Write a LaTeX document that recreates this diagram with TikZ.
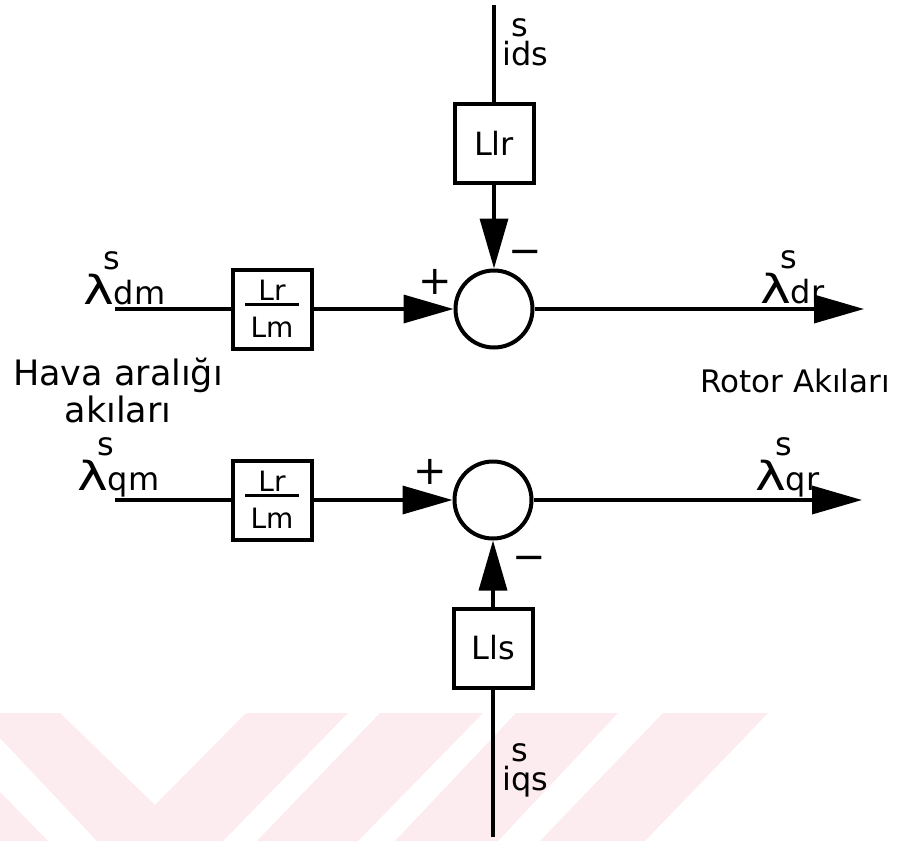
\documentclass[tikz,border=0pt]{standalone}
\usepackage{fontspec}
\setmainfont{DejaVu Sans}
\usetikzlibrary{arrows.meta}
\definecolor{wmpink}{RGB}{252,235,239}
\tikzset{
  blk/.style={draw,line width=4pt,minimum width=79pt,minimum height=79pt,inner sep=0pt,font=\fontsize{32}{32}\selectfont},
  sumnode/.style={draw,circle,line width=4pt,minimum size=77pt,inner sep=0pt},
  sig/.style={line width=3.5pt},
  flow/.style={sig,-{Triangle[length=50pt,width=28pt]}},
  lbl/.style={inner sep=0pt,font=\fontsize{32}{32}\selectfont},
  sgn/.style={inner sep=0pt,anchor=base,font=\fontsize{40}{40}\selectfont},
}
\newcommand{\flux}[1]{{\fontsize{40}{40}\selectfont\scalebox{1.3}[1]{λ}}\rlap{\kern-10pt\raisebox{35pt}{s}}#1}
\newcommand{\stk}[1]{\rlap{\raisebox{29pt}{\kern9pt s}}#1}
\newcommand{\ratio}[2]{\fontsize{28}{28}\selectfont\vbox{\hbox to 54pt{\hss#1\hss}\kern2pt\hrule height 3pt\kern12pt\hbox to 54pt{\hss#2\hss}}}

\begin{document}
\begin{tikzpicture}[x=1pt,y=-1pt]
  \useasboundingbox (0,0) rectangle (902,841);
  % watermark
  \fill[wmpink] (0,713) -- (60,713) -- (155,805) -- (246,713) -- (348,713) -- (223,841) -- (97,841) -- (0,738) -- cycle;
  \fill[wmpink] (0,792) -- (48,841) -- (0,841) -- cycle;
  \fill[wmpink] (380,713) -- (483,713) -- (358,841) -- (257,841) -- cycle;
  \fill[wmpink] (516,713) -- (618,713) -- (498,841) -- (395,841) -- cycle;
  \fill[wmpink] (663,713) -- (768,713) -- (645,841) -- (540,841) -- cycle;

  % blocks
  \node[sumnode] (sumd) at (494,309) {};
  \node[sumnode] (sumq) at (493,500) {};
  \node[blk] (llr) at (494,143) {Llr};
  \node[blk] (lls) at (493,648) {Lls};
  \node[blk] (gaind) at (272,309) {\ratio{Lr}{Lm}};
  \node[blk] (gainq) at (272,500) {\ratio{Lr}{Lm}};

  % free ends
  \coordinate (idsin) at (494,5);
  \coordinate (iqsin) at (493,837);
  \coordinate (dmin) at (115,309);
  \coordinate (qmin) at (115,500);
  \coordinate (drout) at (864,309);
  \coordinate (qrout) at (862,500);

  % connectors
  \draw[sig] (idsin) -- (llr);
  \draw[flow] (llr) -- (sumd);
  \draw[sig] (dmin) -- (gaind);
  \draw[flow] (gaind) -- (sumd);
  \draw[flow] (sumd) -- (drout);
  \draw[sig] (qmin) -- (gainq);
  \draw[flow] (gainq) -- (sumq);
  \draw[flow] (sumq) -- (qrout);
  \draw[sig] (iqsin) -- (lls);
  \draw[flow] (lls) -- (sumq);

  % labels
  \node[lbl,anchor=base west] (idslbl) at (502,65) {\stk{ids}};
  \node[lbl,anchor=base west] (iqslbl) at (502,790) {\stk{iqs}};
  \node[lbl,anchor=base west] (dmlbl) at (83,304) {\flux{dm}};
  \node[lbl,anchor=base west] (qmlbl) at (77,490) {\flux{qm}};
  \node[lbl,anchor=base west] (drlbl) at (760,303) {\flux{dr}};
  \node[lbl,anchor=base west] (qrlbl) at (755,490) {\flux{qr}};
  \node[sgn] (plusd) at (435,294) {+};
  \node[sgn] (minusd) at (525,264) {−};
  \node[sgn] (plusq) at (430,484) {+};
  \node[sgn] (minusq) at (529,570) {−};
  \node[inner sep=0pt,anchor=north,align=center,font=\fontsize{35}{37}\selectfont] (airlbl) at (118,358) {Hava aralığı\\akıları};
  \node[inner sep=0pt,anchor=base west,font=\fontsize{31}{31}\selectfont] (rotlbl) at (700,392) {Rotor Akıları};
\end{tikzpicture}
\end{document}
